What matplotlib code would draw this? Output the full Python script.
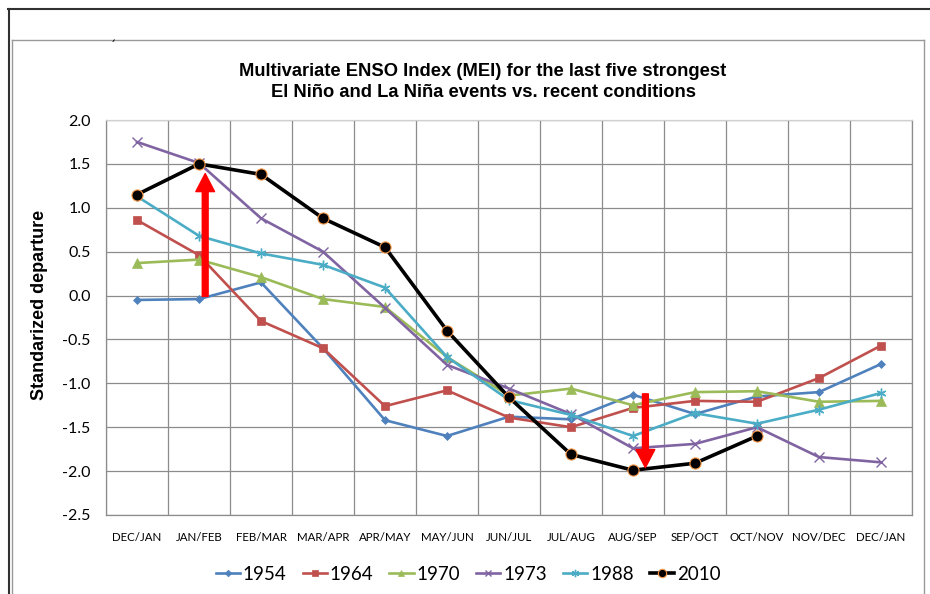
import matplotlib
matplotlib.use('Agg')
import matplotlib.pyplot as plt
from matplotlib.lines import Line2D
import numpy as np

# two-month seasons on the x axis
seasons = ['DEC/JAN', 'JAN/FEB', 'FEB/MAR', 'MAR/APR', 'APR/MAY', 'MAY/JUN', 'JUN/JUL',
           'JUL/AUG', 'AUG/SEP', 'SEP/OCT', 'OCT/NOV', 'NOV/DEC', 'DEC/JAN']

# MEI values
mei_1954 = [-0.05, -0.04, 0.15, -0.60, -1.42, -1.60, -1.38, -1.41, -1.13, -1.35, -1.15, -1.10, -0.78]
mei_1964 = [0.86, 0.46, -0.29, -0.60, -1.26, -1.08, -1.39, -1.50, -1.28, -1.20, -1.21, -0.94, -0.57]
mei_1970 = [0.37, 0.41, 0.21, -0.04, -0.13, -0.70, -1.14, -1.06, -1.25, -1.10, -1.09, -1.21, -1.20]
mei_1973 = [1.75, 1.51, 0.88, 0.50, -0.14, -0.79, -1.06, -1.35, -1.74, -1.69, -1.50, -1.84, -1.90]
mei_1988 = [1.13, 0.68, 0.48, 0.35, 0.09, -0.70, -1.19, -1.36, -1.60, -1.34, -1.46, -1.30, -1.11]
mei_2010 = [1.15, 1.50, 1.38, 0.88, 0.55, -0.40, -1.16, -1.81, -1.99, -1.91, -1.60, np.nan, np.nan]

# red arrows: (x position in season units, tail value, tip value)
arrow_up = (1.1, -0.01, 1.39)
arrow_down = (8.2, -1.12, -1.96)

series = [
    ('1954', mei_1954, '#4F81BD', 'D', 4.5),
    ('1964', mei_1964, '#C0504D', 's', 6),
    ('1970', mei_1970, '#9BBB59', '^', 6.5),
    ('1973', mei_1973, '#8064A2', 'x', 6.5),
    ('1988', mei_1988, '#4BACC6', (6, 2, 0), 7),
]

tick_font = 'Lato'
title_font = ['Liberation Sans', 'DejaVu Sans']

fig = plt.figure(figsize=(9.3, 5.94), dpi=100)
ax = fig.add_axes([106 / 930, 1 - 515 / 594, (912 - 106) / 930, (515 - 120) / 594])

x_pos = np.arange(len(seasons))
for label, values, color, marker, size in series:
    # thin-stroke markers need a bit more edge width
    edge_w = 1.0 if marker == 'x' or isinstance(marker, tuple) else 0.5
    ax.plot(x_pos, values, color=color, lw=1.9, marker=marker, markersize=size,
            markeredgewidth=edge_w, markeredgecolor=color, markerfacecolor=color,
            label=label, zorder=3)
ax.plot(x_pos, mei_2010, color='black', lw=2.6, marker='o', markersize=8,
        markerfacecolor='black', markeredgecolor='#F79646', markeredgewidth=0.8,
        label='2010', zorder=4)

# arrows
for x_arr, y_tail, y_tip in [arrow_up, arrow_down]:
    ax.annotate('', xy=(x_arr, y_tip), xytext=(x_arr, y_tail),
                arrowprops=dict(facecolor='#FF0000', edgecolor='#FF0000', width=4.2,
                                headwidth=13.5, headlength=13, shrink=0), zorder=6)

# axes setup
ax.set_xlim(-0.5, 12.5)
ax.set_ylim(-2.5, 2.0)
y_ticks = np.arange(-2.5, 2.01, 0.5)
ax.set_yticks(y_ticks)
ax.set_yticklabels([f'{v:.1f}' for v in y_ticks], fontfamily=tick_font, fontsize=11.5)
ax.set_xticks(x_pos)
ax.set_xticklabels(seasons, fontfamily=tick_font, fontsize=8.3)
ax.set_xticks(np.arange(-0.5, 12.6, 1), minor=True)
ax.tick_params(axis='both', which='both', length=0)
ax.tick_params(axis='y', pad=11)
ax.tick_params(axis='x', pad=12)
ax.grid(which='minor', axis='x', color='#8c8c8c', lw=0.9)
ax.grid(which='major', axis='y', color='#8c8c8c', lw=0.9)
ax.set_axisbelow(True)
for side in ['left', 'bottom', 'right']:
    ax.spines[side].set_color('#8c8c8c')
    ax.spines[side].set_linewidth(0.9)
ax.spines['top'].set_color('#d0d0d0')
ax.spines['top'].set_linewidth(0.9)

fig.text(40 / 930, 1 - 305 / 594, 'Standarized departure', rotation=90, ha='center', va='center',
         fontfamily=title_font, fontweight='bold', fontsize=13)
fig.text(483 / 930, 1 - 82 / 594,
         'Multivariate ENSO Index (MEI) for the last five strongest\nEl Niño and La Niña events vs. recent conditions',
         ha='center', va='center', fontfamily=title_font, fontweight='bold', fontsize=13.2, linespacing=1.3)
fig.text(113 / 930, 1 - 47 / 594, '´', ha='center', va='center', fontsize=9)

# frame around the chart
fig.add_artist(Line2D([8 / 930, 1.0], [1 - 9 / 594] * 2, color='#303030', lw=1.5))
fig.add_artist(Line2D([9 / 930] * 2, [0, 1 - 9 / 594], color='#303030', lw=1.5))
fig.add_artist(Line2D([12 / 930, 924 / 930], [1 - 40 / 594] * 2, color='#999999', lw=1.0))
fig.add_artist(Line2D([12 / 930] * 2, [0, 1 - 40 / 594], color='#999999', lw=1.0))
fig.add_artist(Line2D([924 / 930] * 2, [0, 1 - 40 / 594], color='#999999', lw=1.0))

handles, labels = ax.get_legend_handles_labels()
fig.legend(handles, labels, loc='center', bbox_to_anchor=(468 / 930, 1 - 574 / 594), ncol=6,
           frameon=False, prop={'family': tick_font, 'size': 13.5}, handlelength=1.3,
           handletextpad=0.15, columnspacing=0.85, markerscale=0.75)

fig.savefig('out.png', dpi=100)
